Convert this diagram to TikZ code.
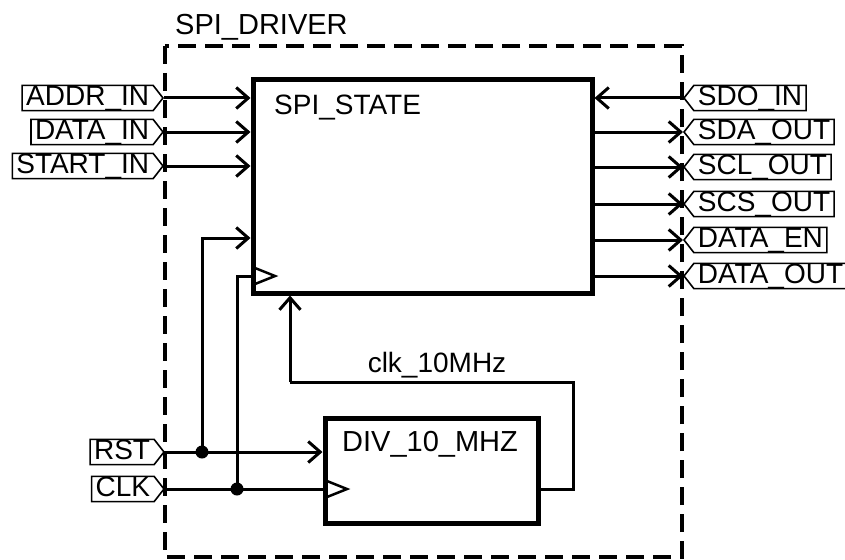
\documentclass[tikz,border=0pt]{standalone}
\usepackage{fontspec}
\setmainfont{Liberation Sans}
\usetikzlibrary{shapes.symbols,arrows.meta,calc}
\begin{document}
\begin{tikzpicture}[x=1pt,y=-1pt,
  font=\fontsize{28}{32}\selectfont,
  bigfont/.style={font=\fontsize{29}{33}\selectfont},
  portbase/.style={signal, signal pointer angle=104, draw, line width=1.6pt,
    text height=20.5pt, text depth=4.8pt, inner xsep=4pt, inner ysep=0pt, minimum height=0pt},
  inport/.style={portbase, signal to=east, anchor=east},
  outport/.style={portbase, signal to=west, anchor=west},
  block/.style={draw, line width=5pt, rectangle, inner sep=0pt},
  wire/.style={line width=3pt},
  arr/.style={wire, -{Straight Barb[length=12pt,width=21pt,line width=3pt]}},
  clktri/.style={line width=2.5pt, line join=miter},
  dot/.style={circle, fill=black, inner sep=0pt, minimum size=13pt}
]
\useasboundingbox (0,0) rectangle (845,559);
% outer dashed frame
\draw[line width=3.5pt, dash pattern=on 18pt off 9pt] (165,46) rectangle (682,557);
\node[bigfont, anchor=base west, inner sep=0pt] (title) at (175,35) {SPI\_DRIVER};

% blocks
\node[block, minimum width=339pt, minimum height=213pt] (state) at (422.5,186.5) {};
\node[anchor=base west, inner sep=0pt] (statetxt) at (274,114) {SPI\_STATE};
\node[block, minimum width=213pt, minimum height=105pt] (div) at (431.5,470.5) {};
\node[bigfont, anchor=base west, inner sep=0pt] (divtxt) at (342,451) {DIV\_10\_MHZ};

% input ports
\node[inport] (addr) at (164,98) {ADDR\_IN};
\node[inport] (data) at (164,132) {DATA\_IN};
\node[inport] (start) at (164,166) {START\_IN};
\node[inport] (rst) at (165,452) {RST};
\node[inport] (clk) at (165,489) {CLK};

% output ports
\node[outport] (sdo) at (683,98) {SDO\_IN};
\node[outport] (sda) at (683,132) {SDA\_OUT};
\node[outport] (scl) at (683,167) {SCL\_OUT};
\node[outport] (scs) at (683,204) {SCS\_OUT};
\node[outport] (den) at (683,240) {DATA\_EN};
\node[outport] (dout) at (683,276) {DATA\_OUT};

% input wires
\draw[arr] (addr.east) -- (addr.east -| state.west);
\draw[arr] (data.east) -- (data.east -| state.west);
\draw[arr] (start.east) -- (start.east -| state.west);

% output wires
\draw[arr] (sdo.west) -- (sdo.west -| state.east);
\draw[arr] (sda.west -| state.east) -- (sda.west);
\draw[arr] (scl.west -| state.east) -- (scl.west);
\draw[arr] (scs.west -| state.east) -- (scs.west);
\draw[arr] (den.west -| state.east) -- (den.west);
\draw[arr] (dout.west -| state.east) -- (dout.west);

% reset and clock
\coordinate (jr) at (202,452);
\coordinate (jc) at (237,489);
\coordinate (rstin) at (253,238);
\coordinate (clkin) at (253,276);
\draw[arr] (rst.east) -- (rst.east -| div.west);
\draw[wire] (clk.east) -- (clk.east -| div.west);
\draw[arr] (jr) -- (jr |- rstin) -- (rstin -| state.west);
\draw[wire] (jc) -- (jc |- clkin) -- (clkin -| state.west);
\node[dot] (dr) at (jr) {};
\node[dot] (dc) at (jc) {};

% clock triangles
\draw[clktri] (255,268) -- (275,276) -- (255,284);
\draw[clktri] (327,481) -- (347,489) -- (327,497);

% divided clock
\coordinate (c1) at (573,489);
\coordinate (c2) at (573,382);
\coordinate (c3) at (290,382);
\draw[wire] (div.east |- c1) -- (c1) -- (c2) -- (c3);
\draw[arr] (c3) -- (c3 |- state.south);
\node[anchor=base, inner sep=0pt] (clklbl) at (437,372) {clk\_10MHz};
\end{tikzpicture}
\end{document}
